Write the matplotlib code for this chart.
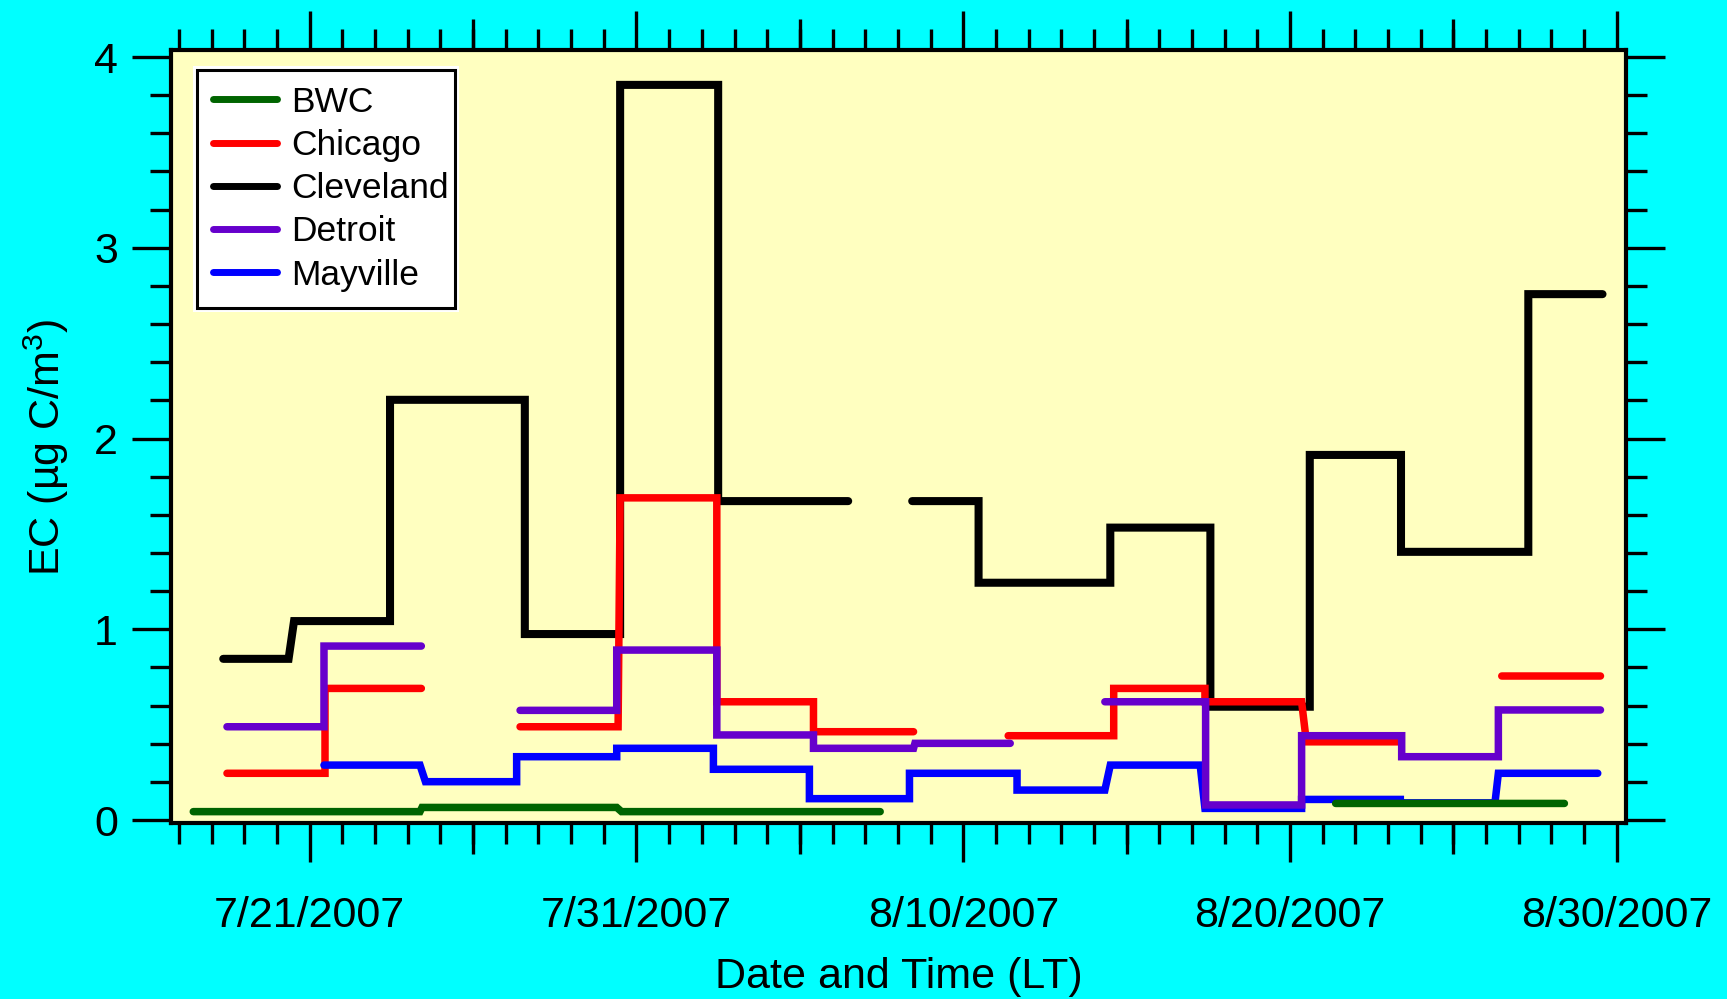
import matplotlib
matplotlib.use('Agg')
import matplotlib.pyplot as plt
import matplotlib.dates as mdates
from matplotlib.patches import Rectangle
from matplotlib.transforms import IdentityTransform
from matplotlib.lines import Line2D
from matplotlib.ticker import MultipleLocator, FixedLocator
import numpy as np
import pandas as pd

plt.rcParams['font.family'] = ['Liberation Sans', 'DejaVu Sans']
plt.rcParams['mathtext.fontset'] = 'custom'
plt.rcParams['mathtext.rm'] = 'Liberation Sans'
plt.rcParams['mathtext.it'] = 'Liberation Sans:italic'
plt.rcParams['mathtext.default'] = 'regular'

# ---------------- data ----------------
series_names = ['BWC', 'Chicago', 'Cleveland', 'Detroit', 'Mayville']
series_colors = ['#006400', '#FF0000', '#000000', '#6600CC', '#0000FF']
series_zorder = [2.6, 2.3, 2.1, 2.8, 2.5]

bwc_start = ['2007-07-17 10:30', '2007-07-24 10:30', '2007-07-30 13:00', '2007-08-21 09:30']
bwc_end = ['2007-07-24 09:00', '2007-07-30 09:30', '2007-08-07 11:00', '2007-08-28 09:30']
bwc_val = [0.044, 0.066, 0.044, 0.087]

chicago_start = ['2007-07-18 11:15', '2007-07-21 11:15', '2007-07-27 10:30', '2007-07-30 12:00',
                 '2007-08-02 11:00', '2007-08-05 10:00', '2007-08-11 09:00', '2007-08-14 14:30',
                 '2007-08-17 09:30', '2007-08-20 12:00', '2007-08-26 11:30']
chicago_end = ['2007-07-21 11:15', '2007-07-24 10:00', '2007-07-30 10:30', '2007-08-02 11:00',
               '2007-08-05 10:00', '2007-08-08 11:30', '2007-08-14 14:30', '2007-08-17 09:30',
               '2007-08-20 08:30', '2007-08-23 09:00', '2007-08-29 12:00']
chicago_val = [0.245, 0.690, 0.489, 1.689, 0.620, 0.463, 0.442, 0.690, 0.620, 0.410, 0.755]

cleveland_start = ['2007-07-18 08:30', '2007-07-20 12:30', '2007-07-23 11:00', '2007-07-27 14:00',
                   '2007-07-30 12:00', '2007-08-02 12:00', '2007-08-08 10:30', '2007-08-10 11:15',
                   '2007-08-14 12:00', '2007-08-17 13:30', '2007-08-20 14:30', '2007-08-23 09:30',
                   '2007-08-27 07:00']
cleveland_end = ['2007-07-20 08:30', '2007-07-23 11:00', '2007-07-27 14:00', '2007-07-30 12:00',
                 '2007-08-02 12:00', '2007-08-06 11:30', '2007-08-10 11:15', '2007-08-14 12:00',
                 '2007-08-17 13:30', '2007-08-20 14:30', '2007-08-23 09:30', '2007-08-27 07:00',
                 '2007-08-29 13:30']
cleveland_val = [0.845, 1.043, 2.203, 0.975, 3.854, 1.672, 1.672, 1.244, 1.533, 0.594, 1.914, 1.406, 2.757]

detroit_start = ['2007-07-18 11:15', '2007-07-21 10:30', '2007-07-27 10:30', '2007-07-30 09:30',
                 '2007-08-02 11:00', '2007-08-05 10:00', '2007-08-08 12:30', '2007-08-14 08:00',
                 '2007-08-17 10:00', '2007-08-20 08:30', '2007-08-23 10:00', '2007-08-26 09:00']
detroit_end = ['2007-07-21 10:30', '2007-07-24 10:00', '2007-07-30 09:30', '2007-08-02 11:00',
               '2007-08-05 10:00', '2007-08-08 11:30', '2007-08-11 10:30', '2007-08-17 10:00',
               '2007-08-20 08:30', '2007-08-23 10:00', '2007-08-26 09:00', '2007-08-29 12:00']
detroit_val = [0.489, 0.912, 0.575, 0.891, 0.446, 0.376, 0.402, 0.620, 0.079, 0.442, 0.332, 0.577]

mayville_start = ['2007-07-21 10:30', '2007-07-24 13:00', '2007-07-27 08:00', '2007-07-30 09:30',
                  '2007-08-02 08:30', '2007-08-05 07:00', '2007-08-08 08:30', '2007-08-11 15:30',
                  '2007-08-14 12:00', '2007-08-17 09:30', '2007-08-20 08:30', '2007-08-23 09:00',
                  '2007-08-26 09:00']
mayville_end = ['2007-07-24 09:00', '2007-07-27 08:00', '2007-07-30 09:30', '2007-08-02 08:30',
                '2007-08-05 07:00', '2007-08-08 08:30', '2007-08-11 15:30', '2007-08-14 08:00',
                '2007-08-17 06:00', '2007-08-20 08:30', '2007-08-23 09:00', '2007-08-26 06:30',
                '2007-08-29 10:00']
mayville_val = [0.288, 0.201, 0.332, 0.376, 0.266, 0.112, 0.245, 0.157, 0.288, 0.061, 0.108, 0.090, 0.245]

xtick_dates = ['2007-07-21', '2007-07-31', '2007-08-10', '2007-08-20', '2007-08-30']
xtick_labels = ['7/21/2007', '7/31/2007', '8/10/2007', '8/20/2007', '8/30/2007']
xmid_dates = ['2007-07-26', '2007-08-05', '2007-08-15', '2007-08-25']
x_limits = ['2007-07-16 17:55', '2007-08-30 06:45']
y_limits = [-0.014, 4.039]

series_data = [
    (bwc_start, bwc_end, bwc_val),
    (chicago_start, chicago_end, chicago_val),
    (cleveland_start, cleveland_end, cleveland_val),
    (detroit_start, detroit_end, detroit_val),
    (mayville_start, mayville_end, mayville_val),
]


def step_xy(starts, ends, vals, gap_days=0.5):
    s = mdates.date2num(pd.to_datetime(starts).to_pydatetime())
    e = mdates.date2num(pd.to_datetime(ends).to_pydatetime())
    xs, ys = [], []
    for i, (a, b, v) in enumerate(zip(s, e, vals)):
        if i > 0 and a - e[i - 1] > gap_days:
            xs.append(np.nan)
            ys.append(np.nan)
        xs.extend([a, b])
        ys.extend([v, v])
    return np.array(xs), np.array(ys)


# ---------------- figure ----------------
fig = plt.figure(figsize=(17.27, 9.99), dpi=100, facecolor='#00FFFF')
ax = fig.add_axes([0.09884, 0.17648, 0.84268, 0.77387])
ax.set_facecolor('#FFFFC0')

handles = []
for name, color, z, (st, en, va) in zip(series_names, series_colors, series_zorder, series_data):
    x, y = step_xy(st, en, va)
    lw = 5.8 if name == 'Cleveland' else 5.4
    ax.plot(x, y, color=color, lw=lw, solid_capstyle='round', solid_joinstyle='miter', zorder=z)
    handles.append(Line2D([], [], color=color, lw=5.0, solid_capstyle='round'))

ax.set_xlim(mdates.date2num(pd.to_datetime(x_limits).to_pydatetime()))
ax.set_ylim(*y_limits)

# ticks
ax.xaxis.set_major_locator(FixedLocator(mdates.date2num(pd.to_datetime(xtick_dates).to_pydatetime())))
ax.set_xticklabels(xtick_labels)
ax.xaxis.set_minor_locator(mdates.DayLocator())
ax.yaxis.set_major_locator(MultipleLocator(1))
ax.yaxis.set_minor_locator(MultipleLocator(0.2))

ax.tick_params(which='major', direction='out', length=28, width=2.4, top=True, right=True,
               labelsize=31, colors='black')
ax.tick_params(which='minor', direction='out', length=15, width=2.4, top=True, right=True)
ax.tick_params(axis='x', which='major', pad=25)
ax.tick_params(axis='y', which='major', pad=10)

mid = mdates.date2num(pd.to_datetime(xmid_dates).to_pydatetime())
for side in ['bottom', 'top']:
    sec = ax.secondary_xaxis(side)
    sec.set_xticks(mid)
    sec.tick_params(direction='out', length=22, width=2.4, labelbottom=False, labeltop=False)
    sec.spines[side].set_visible(False)

for sp in ax.spines.values():
    sp.set_linewidth(3.0)
    sp.set_color('black')

ax.set_xlabel('Date and Time (LT)', fontsize=31, labelpad=15)
ax.set_ylabel('EC (µg C/m$^{3}$)', fontsize=31)
ax.yaxis.set_label_coords(-0.0685, 0.485)

leg = ax.legend(handles, series_names, loc='upper left', bbox_to_anchor=(0.0181, 0.974),
                borderaxespad=0, frameon=False, fontsize=25.5, handlelength=1.8,
                handletextpad=0.42, labelspacing=0.29, borderpad=0.45)
leg.set_zorder(5)

# legend box: white margin + black frame drawn behind the legend entries
fig.canvas.draw()
bb = leg.get_window_extent()
trim = 10  # frame is a little tighter on the right than matplotlib's default
pad = 4
ax.add_patch(Rectangle((bb.x0 - pad, bb.y0 - pad), bb.width - trim + 2 * pad, bb.height + 2 * pad,
                       transform=IdentityTransform(), facecolor='white', edgecolor='none',
                       zorder=4.8))
ax.add_patch(Rectangle((bb.x0, bb.y0), bb.width - trim, bb.height,
                       transform=IdentityTransform(), facecolor='white', edgecolor='black',
                       lw=2.2, zorder=4.9))

fig.savefig('out.png', dpi=100, facecolor=fig.get_facecolor())
